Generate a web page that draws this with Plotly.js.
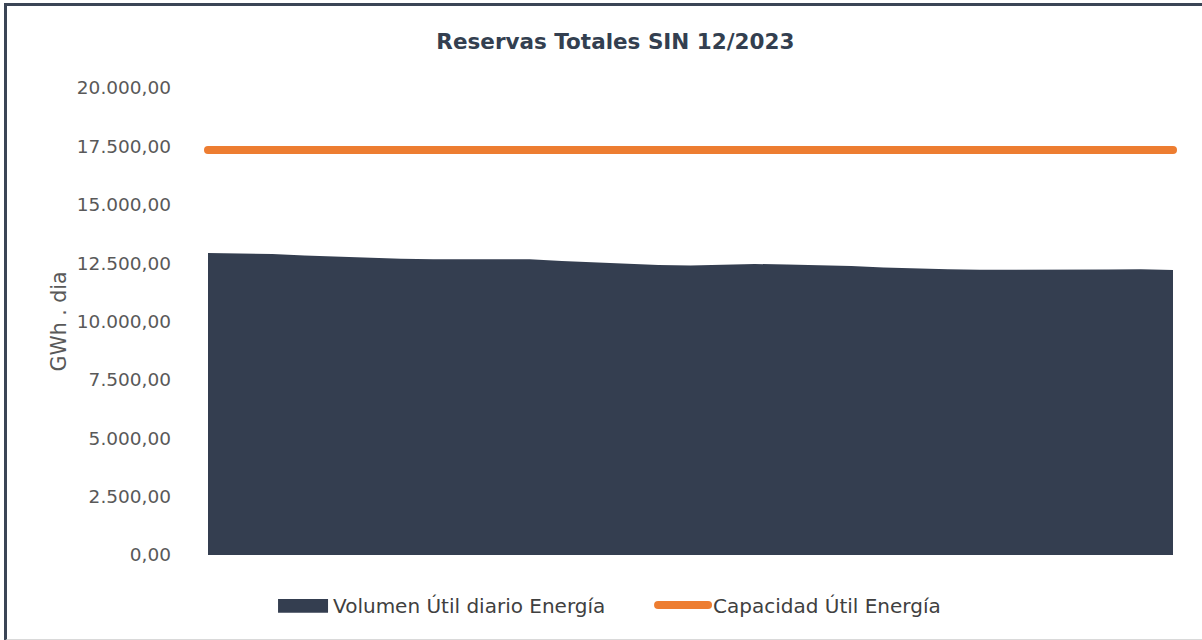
<!DOCTYPE html>
<html>
<head>
<meta charset="utf-8">
<script src="https://cdn.plot.ly/plotly-3.0.1.min.js"></script>
<style>
  html, body { margin: 0; padding: 0; background: #ffffff; }
  #wrap { position: relative; width: 1202px; height: 640px; overflow: hidden; }
  #chart { position: absolute; left: 0; top: 0; width: 1202px; height: 640px; }
  #frame { position: absolute; left: 4px; top: 3px; width: 1210px; height: 633px;
           border-left: 3px solid #3b4556; border-top: 3px solid #3b4556;
           border-bottom: 2px solid #d9d9d9; pointer-events: none; }
  .scatterlayer path.js-line, .legendlines path { stroke-linecap: round !important; }
  .legendfill path { transform-box: fill-box; transform-origin: center; transform: scaleY(2.3); }
</style>
</head>
<body>
<div id="wrap"><div id="chart"></div><div id="frame"></div></div>
<script>
const dias = [1,2,3,4,5,6,7,8,9,10,11,12,13,14,15,16,17,18,19,20,21,22,23,24,25,26,27,28,29,30,31];
const volumenUtil = [12933,12912,12891,12826,12770,12719,12689,12663,12655,12655,12663,12591,12527,12463,12420,12398,12441,12463,12441,12420,12377,12313,12270,12236,12219,12214,12206,12214,12227,12236,12206];
const capacidadUtil = [17345,17345,17345,17345,17345,17345,17345,17345,17345,17345,17345,17345,17345,17345,17345,17345,17345,17345,17345,17345,17345,17345,17345,17345,17345,17345,17345,17345,17345,17345,17345];
const yTicks = [0,2500,5000,7500,10000,12500,15000,17500,20000];
const yTickText = ["0,00","2.500,00","5.000,00","7.500,00","10.000,00","12.500,00","15.000,00","17.500,00","20.000,00"];

const font = "DejaVu Sans, sans-serif";
const traces = [
  { x: dias, y: volumenUtil, type: 'scatter', mode: 'lines', name: 'Volumen Útil diario Energía',
    fill: 'tozeroy', fillcolor: '#343e50', line: { width: 0, color: '#343e50' }, hoverinfo: 'skip' },
  { x: dias, y: capacidadUtil, type: 'scatter', mode: 'lines', name: 'Capacidad Útil Energía',
    line: { width: 8, color: '#ed7d31' }, hoverinfo: 'skip', cliponaxis: false }
];
const layout = {
  width: 1202, height: 640,
  margin: { l: 208, r: 29, t: 88, b: 85 },
  paper_bgcolor: '#ffffff', plot_bgcolor: '#ffffff',
  showlegend: true,
  title: { text: 'Reservas Totales SIN 12/2023', x: 0.512, xanchor: 'center', y: 0.935, yanchor: 'middle',
           font: { family: font, size: 21.5, color: '#333f50', weight: 'bold' } },
  xaxis: { range: [1, 31], showticklabels: false, showgrid: false, zeroline: false, showline: false, ticks: '', fixedrange: true },
  yaxis: { range: [0, 20000], tickvals: yTicks, ticktext: yTickText, showgrid: false, zeroline: false, showline: false,
           ticks: '', ticklabelstandoff: 36, tickfont: { family: font, size: 18.5, color: '#595959' },
           title: { text: 'GWh . dia', standoff: 4, font: { family: font, size: 20.5, color: '#595959' } }, fixedrange: true },
  legend: { orientation: 'h', x: 0.0674, xanchor: 'left', y: -0.107, yanchor: 'middle',
            font: { family: font, size: 20, color: '#404040' }, itemwidth: 50, entrywidth: 315, entrywidthmode: 'pixels',
            tracegroupgap: 0, bgcolor: 'rgba(0,0,0,0)' }
};
Plotly.newPlot('chart', traces, layout, { displayModeBar: false, staticPlot: true }).then(function (gd) {
  gd.querySelectorAll('.cartesianlayer [clip-path], .scatterlayer [clip-path]').forEach(function (el) {
    el.removeAttribute('clip-path');
  });
});
</script>
</body>
</html>
